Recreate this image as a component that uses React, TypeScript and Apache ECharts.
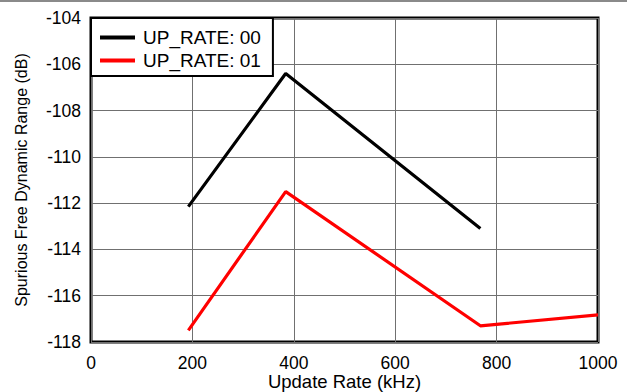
import React, { useEffect, useRef } from "react";
import * as echarts from "echarts";

const xTicks = [0, 200, 400, 600, 800, 1000];
const yTicks = [-118, -116, -114, -112, -110, -108, -106, -104];
const seriesNames = ["UP_RATE: 00", "UP_RATE: 01"];
const rate00X = [192, 384, 768];
const rate00Y = [-112.15, -106.4, -113.1];
const rate01X = [192, 384, 768, 1000];
const rate01Y = [-117.5, -111.5, -117.3, -116.83];

const FONT = "'Liberation Sans', Arial, sans-serif";

export default function App() {
  const ref = useRef<HTMLDivElement>(null);
  useEffect(() => {
    document.body.style.margin = "0";
    const chart = echarts.init(ref.current!, null, { renderer: "svg" });
    const pairs = (xs: number[], ys: number[]) => xs.map((x, i) => [x, ys[i]]);
    chart.setOption({
      animation: false,
      backgroundColor: "#fff",
      textStyle: { fontFamily: FONT },
      graphic: [
        { type: "rect", shape: { x: 0, y: 0, width: 627, height: 2 }, style: { fill: "#8a8a8a" }, silent: true },
      ],
      grid: {
        left: 91,
        right: 29,
        top: 18,
        bottom: 50,
        outerBoundsMode: "none",
        containLabel: false,
        show: true,
        borderColor: "#000",
        borderWidth: 3,
        backgroundColor: "transparent",
      },
      legend: {
        orient: "vertical",
        left: 91,
        top: 18,
        padding: [10, 12, 6, 9],
        itemGap: 4,
        itemWidth: 35,
        itemHeight: 18,
        icon: "path://M0,0L35,0L35,4L0,4Z",
        borderColor: "#000",
        borderWidth: 2,
        backgroundColor: "#fff",
        textStyle: { fontFamily: FONT, fontSize: 19, color: "#000", padding: [0, 0, 0, 3] },
        data: seriesNames,
      },
      xAxis: {
        type: "value",
        min: xTicks[0],
        max: xTicks[xTicks.length - 1],
        interval: 200,
        name: "Update Rate (kHz)",
        nameLocation: "middle",
        nameGap: 30,
        nameMoveOverlap: false,
        nameTextStyle: { fontFamily: FONT, fontSize: 18.5, lineHeight: 18, color: "#000", verticalAlign: "top" },
        axisLine: { show: false },
        axisTick: { show: false },
        axisLabel: {
          fontFamily: FONT,
          fontSize: 17.5,
          lineHeight: 16,
          color: "#000",
          margin: 13,
          formatter: (v: number) => String(v),
        },
        splitLine: { show: true, lineStyle: { color: "#707070", width: 1 } },
      },
      yAxis: {
        type: "value",
        min: yTicks[0],
        max: yTicks[yTicks.length - 1],
        interval: 2,
        name: "Spurious Free Dynamic Range (dB)",
        nameLocation: "middle",
        nameGap: 62,
        nameMoveOverlap: false,
        nameTextStyle: { fontFamily: FONT, fontSize: 16, color: "#000" },
        axisLine: { show: false },
        axisTick: { show: false },
        axisLabel: {
          fontFamily: FONT,
          fontSize: 17.5,
          color: "#000",
          margin: 10,
          formatter: (v: number) => String(v),
        },
        splitLine: { show: true, lineStyle: { color: "#707070", width: 1 } },
      },
      series: [
        {
          name: seriesNames[0],
          type: "line",
          data: pairs(rate00X, rate00Y),
          symbol: "none",
          lineStyle: { color: "#000", width: 3.2 },
          itemStyle: { color: "#000" },
          z: 3,
        },
        {
          name: seriesNames[1],
          type: "line",
          data: pairs(rate01X, rate01Y),
          symbol: "none",
          lineStyle: { color: "#ff0000", width: 3.2 },
          itemStyle: { color: "#ff0000" },
          z: 3,
        },
      ],
    });
    return () => chart.dispose();
  }, []);
  return <div ref={ref} style={{ width: 627, height: 392 }} />;
}
